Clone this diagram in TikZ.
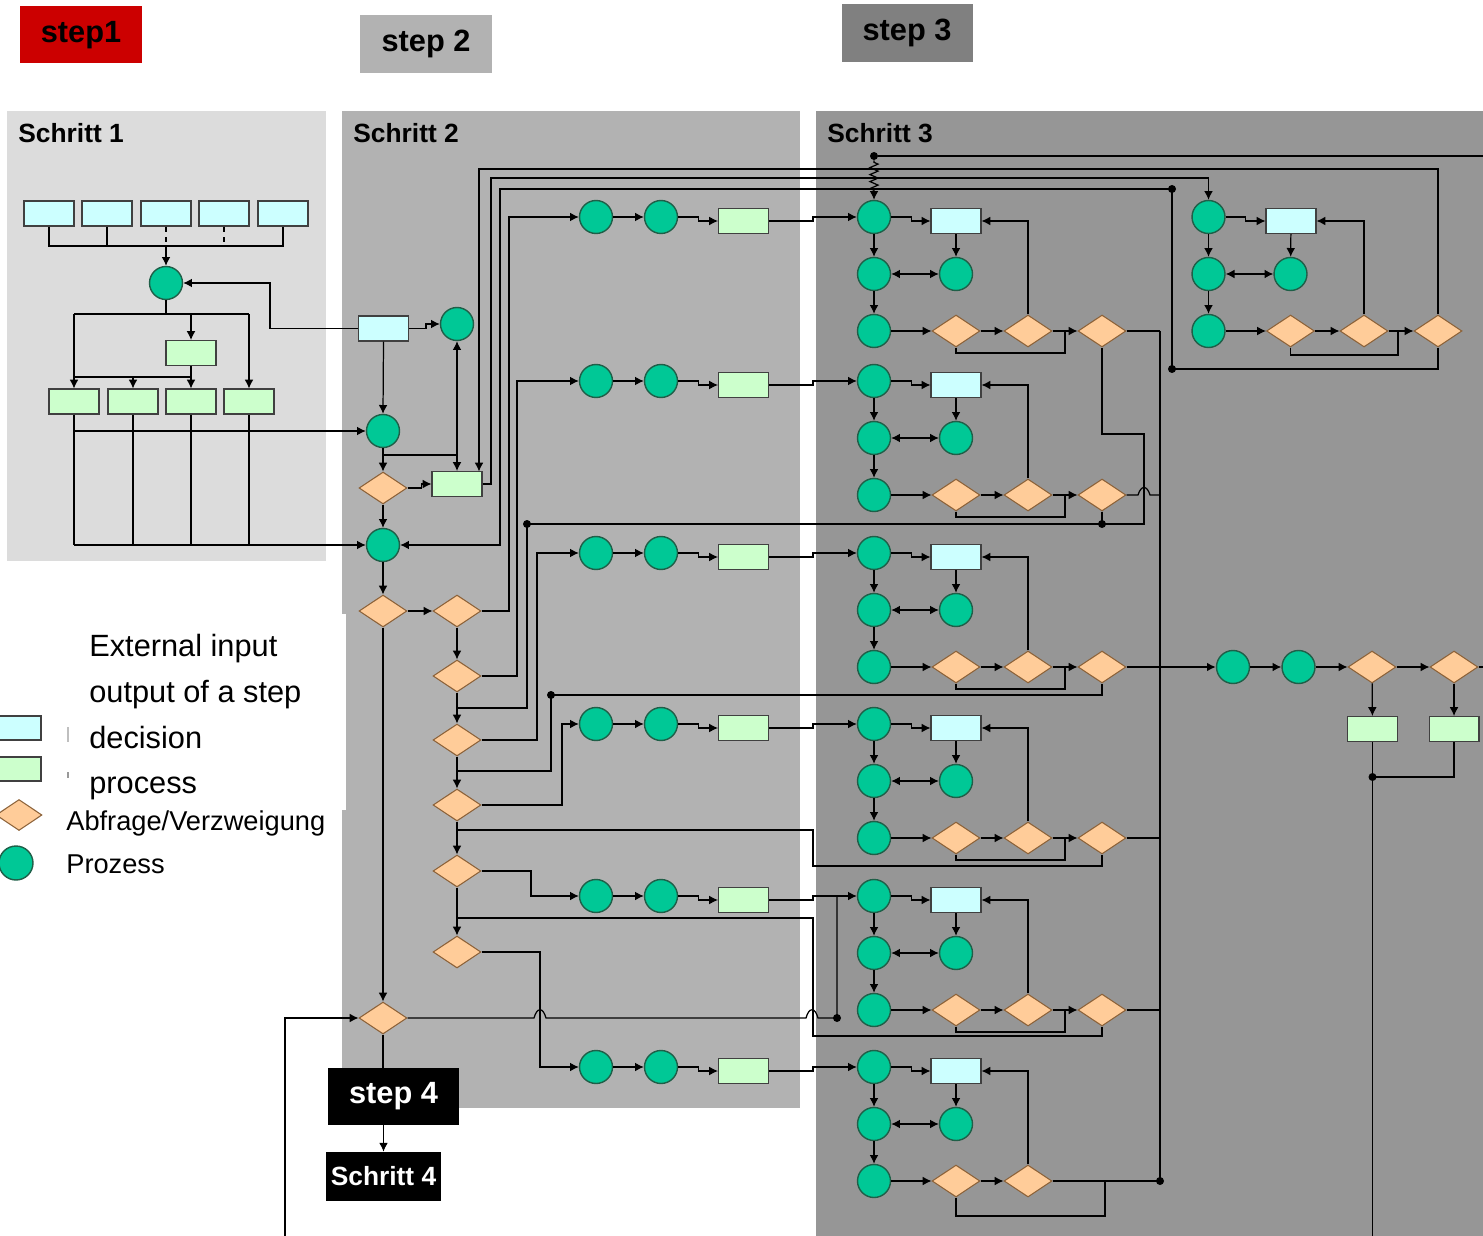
\documentclass[tikz,border=0pt]{standalone}
\usepackage{fontspec}
\setmainfont{Liberation Sans}
\usetikzlibrary{arrows.meta,shapes.geometric,decorations.pathmorphing}

\definecolor{panelone}{HTML}{DCDCDC}
\definecolor{paneltwo}{HTML}{B2B2B2}
\definecolor{panelthree}{HTML}{969696}
\definecolor{inputfill}{HTML}{CCFFFF}
\definecolor{outputfill}{HTML}{CCFFCC}
\definecolor{askfill}{HTML}{FFCC99}
\definecolor{askline}{HTML}{8C6239}
\definecolor{procfill}{HTML}{00C896}
\definecolor{procline}{HTML}{1F5F48}
\definecolor{stepred}{HTML}{CC0000}
\definecolor{stepgray}{HTML}{808080}

\tikzset{
  inbox/.style={draw=black!75,fill=inputfill,line width=0.6pt,minimum width=1cm,minimum height=0.5cm,inner sep=0pt},
  outbox/.style={inbox,fill=outputfill},
  ask/.style={diamond,draw=askline,fill=askfill,line width=0.6pt,minimum width=0.96cm,minimum height=0.64cm,inner sep=0pt},
  proc/.style={circle,draw=procline,fill=procfill,line width=0.8pt,minimum size=0.66cm,inner sep=0pt},
  ln/.style={line width=0.7pt},
  arr/.style={ln,-{Latex[length=5pt,width=5pt]}},
  both/.style={ln,{Latex[length=5pt,width=5pt]}-{Latex[length=5pt,width=5pt]}},
  dot/.style={circle,fill=black,inner sep=0pt,minimum size=0.16cm},
  title/.style={anchor=base west,inner sep=0pt,font=\bfseries\fontsize{15pt}{18pt}\selectfont},
  stepbox/.style={inner sep=0pt,font=\bfseries\fontsize{17.5pt}{20pt}\selectfont},
  legend/.style={anchor=base west,inner sep=0pt,font=\fontsize{17.5pt}{20pt}\selectfont},
  legendsmall/.style={anchor=base west,inner sep=0pt,font=\fontsize{15.5pt}{18pt}\selectfont}
}

\begin{document}
\begin{tikzpicture}[x=0.02cm,y=-0.02cm]
  \useasboundingbox (0,0) rectangle (1483,1236);
  \fill[panelone] (7,111) rectangle (326,561);
  \fill[paneltwo] (342,111) rectangle (800,1108);
  \fill[panelthree] (816,111) rectangle (1483,1236);
  \fill[white] (0,614) rectangle (346,810);

  \node[stepbox,fill=stepred,minimum width=2.44cm,minimum height=1.14cm] (st1) at (81,35) {step1};
  \node[stepbox,fill=paneltwo,minimum width=2.64cm,minimum height=1.16cm] (st2) at (426,44) {step 2};
  \node[stepbox,fill=stepgray,minimum width=2.62cm,minimum height=1.16cm] (st3) at (907,33) {step 3};

  \node[title] (n1) at (18,143) {Schritt 1};
  \node[title] (n2) at (353,143) {Schritt 2};
  \node[title] (n3) at (827,143) {Schritt 3};

  \node[inbox,minimum width=0.92cm,minimum height=0.48cm] (lin) at (18,728) {};
  \node[outbox,minimum width=0.92cm,minimum height=0.48cm] (lout) at (18,769) {};
  \node[ask,minimum width=0.92cm,minimum height=0.62cm] (lask) at (19,815) {};
  \node[proc,minimum size=0.68cm] (lproc) at (16,863) {};
  \draw[black!25,line width=0.6pt] (68,727) -- (68,742);
  \draw[black!40,line width=0.6pt] (68,772) -- (68,778);
  \node[legend] (x1) at (89,656) {External input};
  \node[legend] (x2) at (89,702) {output of a step};
  \node[legend] (x3) at (89,748) {decision};
  \node[legend] (x4) at (89,793) {process};
  \node[legendsmall] (x5) at (66,830) {Abfrage/Verzweigung};
  \node[legendsmall] (x6) at (66,873) {Prozess};

  \foreach \i/\x in {1/49,2/107,3/166,4/224,5/283}
    \node[inbox] (a\i) at (\x,213.5) {};
  \node[proc] (k) at (166,283) {};
  \node[outbox] (m) at (191,353) {};
  \foreach \i/\x in {1/74,2/133,3/191,4/249}
    \node[outbox] (b\i) at (\x,401.5) {};

  \node[inbox] (r) at (383.5,328.5) {};
  \node[proc] (u) at (457,324) {};
  \node[proc] (v) at (383,431) {};
  \node[ask] (q0) at (383,488) {};
  \node[outbox] (w) at (457,484) {};
  \node[proc] (e) at (383,545) {};
  \node[ask] (qa) at (383,611) {};
  \node[ask] (qb) at (457,611) {};
  \node[ask] (qc) at (457,676) {};
  \node[ask] (qd) at (457,740) {};
  \node[ask] (qe) at (457,805) {};
  \node[ask] (qf) at (457,871) {};
  \node[ask] (qg) at (457,952) {};
  \node[ask] (qh) at (383,1018) {};

  \draw[ln] (a1.south) -- (49,246) -- (283,246) -- (a5.south);
  \draw[ln] (a2.south) -- (107,246);
  \draw[ln,dashed] (a3.south) -- (166,246);
  \draw[ln,dashed] (a4.south) -- (224,246);
  \draw[arr] (166,246) -- (k.north);
  \draw[ln] (k.south) -- (166,314);
  \draw[ln] (74,314) -- (249,314);
  \draw[arr] (74,314) -- (b1.north);
  \draw[arr] (191,314) -- (m.north);
  \draw[arr] (249,314) -- (b4.north);
  \draw[ln] (m.south) -- (191,377) -- (74,377);
  \draw[arr] (133,377) -- (b2.north);
  \draw[arr] (191,377) -- (b3.north);
  \foreach \i in {1,...,4}
    \draw[ln] (b\i.south) -- (b\i.south |- 0,545);
  \draw[arr] (74,431) -- (v.west);
  \draw[arr] (74,545) -- (e.west);

  \draw[arr] (r.west) -| (270,283) -- (k.east);
  \draw[arr] (r.east) -- ++(17,0) |- (u.west);
  \draw[arr] (r.south) -- (v.north);
  \draw[arr] (v.south) -- (q0.north);
  \draw[ln] (383,455) -- (457,455);
  \draw[both] (u.south) -- (w.north);
  \draw[arr] (q0.east) -- ++(14,0) |- (w.west);
  \draw[arr] (q0.south) -- (e.north);
  \draw[arr] (e.south) -- (qa.north);
  \draw[arr] (qa.east) -- (qb.west);
  \draw[arr] (qb.south) -- (qc.north);
  \draw[arr] (qc.south) -- (qd.north);
  \draw[arr] (qd.south) -- (qe.north);
  \draw[arr] (qe.south) -- (qf.north);
  \draw[arr] (qf.south) -- (qg.north);
  \draw[arr] (qa.south) -- (qh.north);
  \draw[arr] (285,1236) |- (qh.west);

  \foreach \i/\y in {1/217,2/381,3/553,4/724,5/896,6/1067}{
    \node[proc] (pa\i) at (596,\y) {};
    \node[proc] (pb\i) at (661,\y) {};
    \node[outbox] (pc\i) at (743.5,\y+4) {};
    \node[proc] (sa\i) at (874,\y) {};
    \node[proc] (sb\i) at (874,\y+57) {};
    \node[proc] (sc\i) at (874,\y+114) {};
    \node[inbox] (sr\i) at (956,\y+4) {};
    \node[proc] (sd\i) at (956,\y+57) {};
    \node[ask] (ya\i) at (956,\y+114) {};
    \node[ask] (yb\i) at (1028,\y+114) {};
    \draw[arr] (pa\i) -- (pb\i);
    \draw[arr] (pb\i.east) -- ++(20,0) |- (pc\i.west);
    \draw[arr] (pc\i.east) -- (813,\y+4) |- (sa\i.west);
    \draw[arr] (sa\i.east) -- ++(20,0) |- (sr\i.west);
    \draw[arr] (sa\i) -- (sb\i);
    \draw[arr] (sb\i) -- (sc\i);
    \draw[both] (sb\i) -- (sd\i);
    \draw[arr] (sr\i) -- (sd\i);
    \draw[arr] (sc\i) -- (ya\i);
    \draw[arr] (ya\i) -- (yb\i);
    \draw[arr] (yb\i.north) |- (sr\i.east);
  }
  \foreach \i/\y in {1/217,2/381,3/553,4/724,5/896}{
    \node[ask] (yc\i) at (1102,\y+114) {};
    \draw[arr] (yb\i) -- (yc\i);
    \draw[ln] (ya\i.south) |- (1065,\y+136) -- (1065,\y+114);
  }
  \draw[ln] (ya6.south) |- (1105,1216) -- (1105,1181);

  \draw[arr] (qb.east) -| (509,217) -- (pa1.west);
  \draw[arr] (qc.east) -| (517,381) -- (pa2.west);
  \draw[arr] (qd.east) -| (537,553) -- (pa3.west);
  \draw[arr] (qe.east) -| (562,724) -- (pa4.west);
  \draw[arr] (qf.east) -| (531,896) -- (pa5.west);
  \draw[arr] (qg.east) -| (540,1067) -- (pa6.west);

  \draw[ln] (457,708) -| (527,524) -- (1144,524) |- (1102,434) -- (yc1.south);
  \draw[ln] (yc2.south) -- (1102,524);
  \draw[ln] (457,771) -| (551,695) -- (1102,695) -- (yc3.south);
  \draw[ln] (457,830) -- (813,830) |- (1102,866) -- (yc4.south);
  \draw[ln] (457,918) -- (813,918) |- (1102,1036) -- (yc5.south);
  \node[dot] (j1) at (527,524) {};
  \node[dot] (j2) at (1102,524) {};
  \node[dot] (j3) at (551,695) {};

  \draw[ln] (qh.east) -- (534,1018) .. controls (537,1007) and (543,1007) .. (546,1018)
    -- (806,1018) .. controls (809,1007) and (815,1007) .. (818,1018) -- (837,1018) -- (837,896);
  \node[dot] (j4) at (837,1018) {};

  \draw[ln] (yc1.east) -- (1160,331);
  \draw[ln] (yc2.east) -- (1138,495) .. controls (1141,485) and (1147,485) .. (1150,495) -- (1160,495);
  \draw[ln] (yc3.east) -- (1160,667);
  \draw[ln] (yc4.east) -- (1160,838);
  \draw[ln] (yc5.east) -- (1160,1010);
  \draw[ln] (yb6.east) -- (1160,1181);
  \draw[ln] (1160,331) -- (1160,1181);
  \draw[line width=1.2pt] (1160,667) -- (1160,1010);
  \node[dot] (j5) at (1160,1181) {};

  \node[proc] (ta) at (1208.5,217) {};
  \node[proc] (tb) at (1208.5,274) {};
  \node[proc] (tc) at (1208.5,331) {};
  \node[inbox] (tr) at (1291,221) {};
  \node[proc] (td) at (1290.5,274) {};
  \node[ask] (t1) at (1290.5,331) {};
  \node[ask] (t2) at (1364,331) {};
  \node[ask] (t3) at (1438,331) {};
  \draw[arr] (ta.east) -- ++(20,0) |- (tr.west);
  \draw[arr] (ta) -- (tb);
  \draw[arr] (tb) -- (tc);
  \draw[both] (tb) -- (td);
  \draw[arr] (tr) -- (td);
  \draw[arr] (tc) -- (t1);
  \draw[arr] (t1) -- (t2);
  \draw[arr] (t2) -- (t3);
  \draw[arr] (t2.north) |- (tr.east);
  \draw[ln] (t1.south) |- (1398,355) -- (1398,331);

  \draw[arr] (t3.north) |- (479,169) -- (479,471.5);
  \draw[arr] (w.east) -| (491,178) -| (ta.north);
  \draw[arr] (t3.south) |- (1172,369) |- (500,189) |- (e.east);
  \node[dot] (j6) at (1172,369) {};
  \node[dot] (j7) at (1172,189) {};

  \node[dot] (top) at (874,156) {};
  \draw[ln] (top) -- (1483,156);
  \draw[arr,decorate,decoration={zigzag,segment length=0.14cm,amplitude=0.08cm,pre length=0.04cm,post length=0.12cm}] (top) -- (sa1.north);

  \node[proc] (f1) at (1233,667) {};
  \node[proc] (f2) at (1298.5,667) {};
  \node[ask] (g1) at (1372,667) {};
  \node[ask] (g2) at (1454,667) {};
  \node[outbox] (h1) at (1372.5,729) {};
  \node[outbox] (h2) at (1454,729) {};
  \draw[arr,line width=1.2pt] (1160,667) -- (f1.west);
  \draw[arr] (f1) -- (f2);
  \draw[arr] (f2) -- (g1);
  \draw[arr] (g1) -- (g2);
  \draw[ln] (g2.east) -- (1483,667);
  \draw[arr] (g1) -- (h1);
  \draw[arr] (g2) -- (h2);
  \draw[ln] (h1.south) -- (1372.5,1236);
  \draw[ln] (h2.south) |- (1372.5,777);
  \node[dot] (j8) at (1372.5,777) {};

  \draw[ln] (qh.south) -- (383,1068);
  \node[stepbox,fill=black,text=white,minimum width=2.62cm,minimum height=1.14cm] (st4) at (393.5,1096.5) {step 4};
  \node[stepbox,fill=black,text=white,minimum width=2.3cm,minimum height=0.98cm,font=\bfseries\fontsize{15pt}{18pt}\selectfont] (sch4) at (383.5,1176.5) {Schritt 4};
  \draw[arr] (st4.south -| sch4.north) -- (sch4.north);
\end{tikzpicture}
\end{document}
